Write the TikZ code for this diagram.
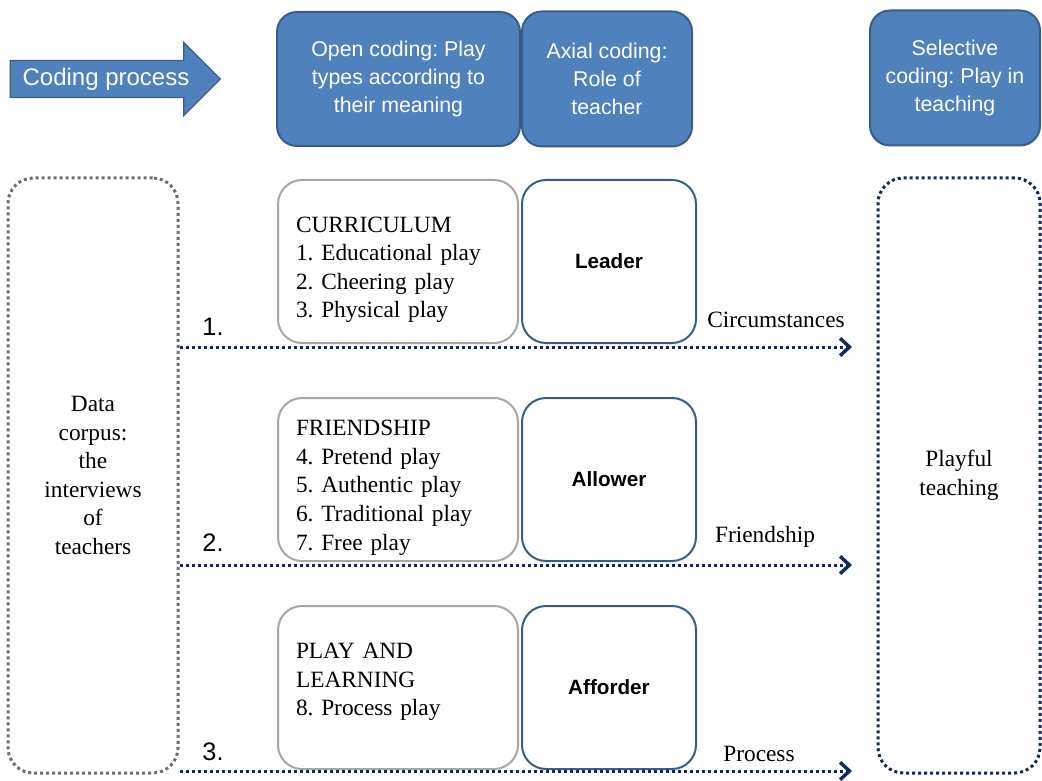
\documentclass[tikz,border=0pt]{standalone}
\usepackage{fontspec}
\setmainfont{Liberation Serif}
\setsansfont{Liberation Sans}
\usetikzlibrary{shapes.arrows,arrows.meta,positioning}
\definecolor{boxblue}{RGB}{79,129,189}
\definecolor{edgeblue}{RGB}{56,93,138}
\definecolor{navyline}{RGB}{18,40,96}
\definecolor{dotgray}{RGB}{110,110,110}
\definecolor{framegray}{RGB}{166,166,166}
\frenchspacing
\tikzset{
  headbox/.style={rectangle, rounded corners=15pt, fill=boxblue, draw=edgeblue, line width=1.5pt,
    text=white, align=center, font=\sffamily\fontsize{16}{21}\selectfont},
  typebox/.style={rectangle, rounded corners=18pt, draw=framegray, line width=1.5pt,
    minimum width=180pt, minimum height=122.25pt, text width=153pt, inner xsep=13.5pt,
    align=left, font=\fontsize{17.5}{21.4}\selectfont},
  rolebox/.style={rectangle, rounded corners=18pt, draw=edgeblue, line width=1.5pt,
    minimum width=130.5pt, minimum height=122.25pt, font=\sffamily\bfseries\fontsize{15.5}{18}\selectfont},
  dotbox/.style={rectangle, rounded corners=19pt, line width=2.25pt, dash pattern=on 2.25pt off 2.25pt,
    minimum height=446.25pt, align=center, font=\fontsize{17.5}{21.4}\selectfont},
  flow/.style={draw=navyline, line width=2.25pt, dash pattern=on 2.25pt off 2.25pt,
    -{Straight Barb[length=7pt,width=13pt,line width=2.6pt]}},
  numlbl/.style={font=\sffamily\fontsize{19}{22}\selectfont},
  flowlbl/.style={font=\fontsize{17.5}{21}\selectfont}
}

\begin{document}
\begin{tikzpicture}[x=0.75pt,y=-0.75pt]
\useasboundingbox (0,0) rectangle (1042,781);

\node[single arrow, fill=boxblue, draw=edgeblue, line width=1pt, text=white,
  font=\sffamily\fontsize{18}{20}\selectfont, single arrow head extend=13.5pt,
  minimum height=157.5pt, inner ysep=5pt, inner xsep=2pt] (codarrow) at (106,79) {Coding process};

\node[headbox, minimum width=182.25pt, minimum height=100.5pt] (opencod) at (398.5,79) {Open coding: Play\\types according to\\their meaning};
\node[headbox, minimum width=127.5pt, minimum height=101.25pt, right=0pt of opencod] (axialcod) {Axial coding:\\Role of\\teacher};
\node[headbox, minimum width=127.5pt, minimum height=101.25pt] (selcod) at (955,78) {Selective\\coding: Play in\\teaching};

\node[dotbox, draw=dotgray, minimum width=127.5pt] (corpus) at (93,475.5) {Data\\corpus:\\the\\interviews\\of\\teachers};
\node[dotbox, draw=navyline, minimum width=121.5pt] (playful) at (959,475.5) {Playful\\teaching};

\node[typebox] (curric) at (398,261.5) {\rule{0pt}{24pt}CURRICULUM\\1. Educational play\\2. Cheering play\\3. Physical play};
\node[rolebox, right=1.5pt of curric] (leader) {Leader};
\node[typebox] (friend) at (398,479.5) {\rule{0pt}{24pt}FRIENDSHIP\\4. Pretend play\\5. Authentic play\\6. Traditional play\\7. Free play};
\node[rolebox, right=1.5pt of friend] (allower) {Allower};
\node[typebox] (playlearn) at (398,687.5) {PLAY AND\\LEARNING\\8. Process play\\[-9.4pt]\mbox{}};
\node[rolebox, right=1.5pt of playlearn] (afforder) {Afforder};

\coordinate (end1) at (852,347);
\coordinate (end2) at (852,565);
\coordinate (end3) at (852,771);
\draw[flow] (corpus.east |- end1) -- (end1);
\draw[flow] (corpus.east |- end2) -- (end2);
\draw[flow] (corpus.east |- end3) -- (end3);

\node[numlbl] (num1) at (213,327) {1.};
\node[numlbl] (num2) at (213,543) {2.};
\node[numlbl] (num3) at (213,752) {3.};
\node[flowlbl] (circ) at (776,320) {Circumstances};
\node[flowlbl] (friendlbl) at (765,537) {Friendship};
\node[flowlbl] (proc) at (759,754) {Process};
\end{tikzpicture}
\end{document}
